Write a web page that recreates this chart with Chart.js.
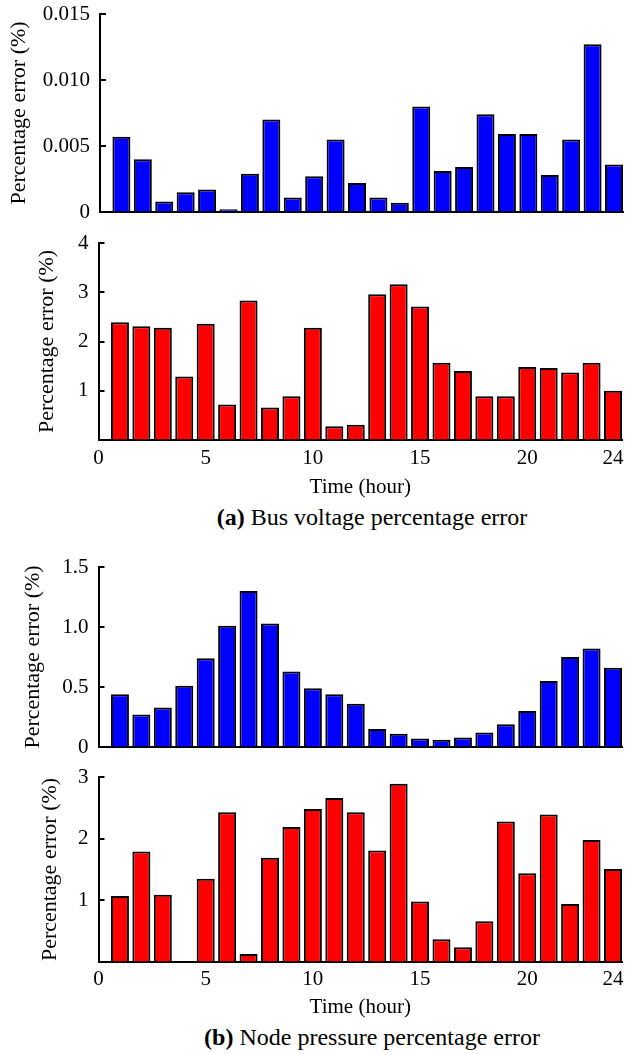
<!DOCTYPE html>
<html>
<head>
<meta charset="utf-8">
<script src="https://cdn.jsdelivr.net/npm/chart.js@4.4.1/dist/chart.umd.min.js"></script>
<style>
  body { margin: 0; background: #fff; }
  .fig { position: relative; width: 626px; height: 1054px; font-family: 'Liberation Serif', 'Times New Roman', serif; }
  .fig canvas { position: absolute; left: 0; }
  .caption { position: absolute; left: 372px; transform: translateX(-50%); white-space: nowrap; font-size: 24px; line-height: 26px; color: #000; }
</style>
</head>
<body>
<div class="fig">
  <canvas id="voltageA" width="626" height="230" style="top:0"></canvas>
  <canvas id="voltageB" width="626" height="270" style="top:230px"></canvas>
  <div class="caption" style="top:504px"><b>(a)</b> Bus voltage percentage error</div>
  <canvas id="pressureA" width="626" height="210" style="top:550px"></canvas>
  <canvas id="pressureB" width="626" height="260" style="top:760px"></canvas>
  <div class="caption" style="top:1024px"><b>(b)</b> Node pressure percentage error</div>
</div>
<script>
const hours = [1, 2, 3, 4, 5, 6, 7, 8, 9, 10, 11, 12, 13, 14, 15, 16, 17, 18, 19, 20, 21, 22, 23, 24];
const xTicks = [0, 5, 10, 15, 20, 24];
// (a) bus voltage, %
const voltageErrA = [0.0057, 0.0040, 0.0008, 0.0015, 0.0017, 0.0002, 0.0029, 0.0070, 0.0011, 0.0027, 0.0055, 0.0022,
  0.0011, 0.0007, 0.0080, 0.0031, 0.0034, 0.0074, 0.0059, 0.0059, 0.0028, 0.0055, 0.0127, 0.0036];
const voltageErrB = [2.39, 2.31, 2.28, 1.29, 2.36, 0.72, 2.83, 0.66, 0.89, 2.28, 0.28, 0.31,
  2.96, 3.16, 2.71, 1.57, 1.40, 0.89, 0.89, 1.48, 1.46, 1.37, 1.57, 1.00];
// (b) node pressure, %
const pressureErrA = [0.44, 0.27, 0.33, 0.51, 0.74, 1.01, 1.30, 1.03, 0.63, 0.49, 0.44, 0.36,
  0.15, 0.11, 0.07, 0.06, 0.08, 0.12, 0.19, 0.30, 0.55, 0.75, 0.82, 0.66];
const pressureErrB = [1.07, 1.79, 1.09, 0.01, 1.35, 2.43, 0.13, 1.69, 2.19, 2.48, 2.66, 2.43,
  1.81, 2.89, 0.98, 0.37, 0.24, 0.66, 2.28, 1.44, 2.39, 0.94, 1.98, 1.51];

const FONT = "'Liberation Serif', 'Times New Roman', serif";
const BLUE = '#0000ff';
const RED = '#ff0000';

Chart.defaults.font.family = FONT;
Chart.defaults.color = '#000';
Chart.defaults.animation = false;
Chart.defaults.plugins.legend.display = false;
Chart.defaults.plugins.tooltip.enabled = false;

/** короткие засечки оси Y внутрь графика */
const inwardTicks = {
  id: 'inwardTicks',
  afterDraw(chart) {
    const { ctx, chartArea, scales: { y } } = chart;
    ctx.save();
    ctx.strokeStyle = '#000';
    ctx.lineWidth = 2;
    y.ticks.forEach((t) => {
      const py = Math.round(y.getPixelForValue(t.value));
      ctx.beginPath();
      ctx.moveTo(chartArea.left, py);
      ctx.lineTo(chartArea.left + 6, py);
      ctx.stroke();
    });
    ctx.restore();
  },
};

const makeChart = (id, values, color, p) => new Chart(document.getElementById(id), {
  type: 'bar',
  data: {
    labels: hours,
    datasets: [{
      data: values,
      backgroundColor: color,
      borderColor: '#000',
      borderWidth: 2,
      categoryPercentage: 1,
      barPercentage: 0.84,
    }],
  },
  options: {
    responsive: false,
    layout: { padding: { left: p.titleX - 13.2, right: 626 - p.right, top: p.top, bottom: 0 } },
    scales: {
      x: {
        type: 'linear',
        offset: false,
        min: 0,
        max: 24.42,
        grid: { display: true, offset: false, drawOnChartArea: false, drawTicks: false },
        border: { display: true, color: '#000', width: 2 },
        afterBuildTicks: (s) => { s.ticks = xTicks.map((v) => ({ value: v })); },
        afterFit: (s) => { s.height = p.xHeight; s.paddingLeft = 0; s.paddingRight = 0; },
        ticks: { display: p.xLabels, padding: p.tickPad || 6, font: { size: 21 }, maxRotation: 0 },
        title: { display: p.xLabels, text: 'Time (hour)', font: { size: 21 }, padding: 0 },
      },
      y: {
        min: 0,
        max: p.max,
        grid: { display: true, drawOnChartArea: false, drawTicks: false },
        border: { display: true, color: '#000', width: 2 },
        afterFit: (s) => { s.width = p.left - (p.titleX - 13.2); s.paddingTop = 0; s.paddingBottom = 0; },
        ticks: { stepSize: p.step, padding: 10, font: { size: 21 }, callback: p.fmt },
        title: { display: true, text: 'Percentage error (%)', font: { size: 22 }, padding: 0 },
      },
    },
  },
  plugins: [inwardTicks],
});

makeChart('voltageA', voltageErrA, BLUE, {
  left: 100, right: 623, top: 14, xHeight: 18, titleX: 19.5, xLabels: false,
  max: 0.015, step: 0.005, fmt: (v) => (v === 0 ? '0' : v.toFixed(3)),
});
makeChart('voltageB', voltageErrB, RED, {
  left: 98.5, right: 622, top: 13, xHeight: 60, titleX: 47.5, xLabels: true, tickPad: 6,
  max: 4, step: 1, fmt: (v) => (v === 0 ? '' : String(v)),
});
makeChart('pressureA', pressureErrA, BLUE, {
  left: 98.5, right: 622, top: 17, xHeight: 13, titleX: 33, xLabels: false,
  max: 1.5, step: 0.5, fmt: (v) => (v === 0 ? '0' : v.toFixed(1)),
});
makeChart('pressureB', pressureErrB, RED, {
  left: 98.5, right: 622, top: 17, xHeight: 58, titleX: 50, xLabels: true, tickPad: 5,
  max: 3, step: 1, fmt: (v) => (v === 0 ? '' : String(v)),
});
</script>
</body>
</html>
